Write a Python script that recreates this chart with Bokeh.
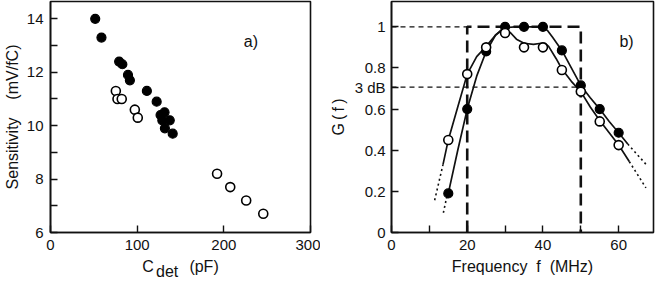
from bokeh.plotting import figure
from bokeh.layouts import row
from bokeh.models import FixedTicker, Label
from bokeh.embed import file_html
from bokeh.resources import INLINE

# ---------------- data: panel a ----------------
cdet_filled = [51.6, 58.8, 79.2, 82.9, 89.4, 91.6, 111.2, 122.5, 127.0, 131.6, 129.0, 137.6, 132.0, 141.0]
sens_filled = [14.0, 13.3, 12.4, 12.3, 11.9, 11.7, 11.3, 10.9, 10.4, 10.5, 10.2, 10.2, 9.9, 9.7]
cdet_open = [75.4, 77.3, 82.2, 97.3, 100.7, 192.2, 207.4, 225.8, 245.5]
sens_open = [11.3, 11.0, 11.0, 10.6, 10.3, 8.2, 7.7, 7.2, 6.7]
a_xticks = [0, 100, 200, 300]
a_yticks = [6, 8, 10, 12, 14]
a_yminor = [7, 9, 11, 13]

# ---------------- data: panel b ----------------
freq_pts = [15, 20, 25, 30, 35, 40, 45, 50, 55, 60]
g_filled = [0.19, 0.60, 0.88, 1.00, 1.00, 1.00, 0.885, 0.715, 0.60, 0.485]
g_open = [0.45, 0.77, 0.90, 0.97, 0.90, 0.90, 0.79, 0.685, 0.54, 0.425]

fit_filled_f = [14.5, 15, 17.5, 20, 22.5, 25, 27.5, 30, 32.5, 35, 37.5, 40, 41.3, 42.5, 45, 47.5, 50, 52.5, 55, 57.5, 60, 62.4]
fit_filled_g = [0.165, 0.19, 0.40, 0.60, 0.76, 0.88, 0.96, 0.995, 1.0, 1.0, 1.0, 1.0, 0.98, 0.95, 0.885, 0.80, 0.715, 0.655, 0.60, 0.54, 0.485, 0.43]
fit_open_f = [13.6, 15, 17.5, 20, 22.5, 25, 27.5, 29, 30, 31.5, 33, 35, 37.5, 39.5, 40.5, 41.5, 43.5, 45, 47.5, 50, 52.5, 55, 57.5, 60, 62.8]
fit_open_g = [0.33, 0.45, 0.61, 0.77, 0.855, 0.905, 0.96, 0.985, 0.99, 0.97, 0.94, 0.92, 0.915, 0.92, 0.92, 0.905, 0.845, 0.795, 0.735, 0.685, 0.61, 0.545, 0.485, 0.425, 0.345]
ext_filled_lo_f = [13.7, 14.5]
ext_filled_lo_g = [0.096, 0.165]
ext_open_lo_f = [11.4, 13.6]
ext_open_lo_g = [0.157, 0.33]
ext_filled_hi_f = [62.4, 67.4]
ext_filled_hi_g = [0.43, 0.328]
ext_open_hi_f = [62.8, 67.2]
ext_open_hi_g = [0.345, 0.217]

band_lo, band_hi = 20, 50
g_max, g_3db = 1.0, 0.707
b_xticks = [0, 20, 40, 60]
b_xminor = [10, 30, 50]
b_yticks = [0, 0.2, 0.4, 0.6, 0.707, 0.8, 1.0]
b_ylabels = {0: "0", 0.2: "0.2", 0.4: "0.4", 0.6: "0.6", 0.707: "3 dB", 0.8: "0.8", 1.0: "1"}

FONT = "Liberation Sans"
INK = "#111111"
NB = "\u00a0"


def style(p):
    p.xgrid.visible = False
    p.ygrid.visible = False
    p.outline_line_color = INK
    p.outline_line_width = 1.6
    p.background_fill_color = "white"
    p.border_fill_color = "white"
    for ax in (p.xaxis[0], p.yaxis[0]):
        ax.axis_line_color = INK
        ax.axis_line_width = 1.6
        ax.major_tick_in = 7
        ax.major_tick_out = 0
        ax.minor_tick_in = 7
        ax.minor_tick_out = 0
        ax.major_tick_line_color = INK
        ax.minor_tick_line_color = INK
        ax.major_tick_line_width = 1.4
        ax.minor_tick_line_width = 1.4
        ax.major_label_text_font = FONT
        ax.major_label_text_font_size = "15px"
        ax.major_label_text_color = INK
        ax.axis_label_text_font = FONT
        ax.axis_label_text_font_size = "16px"
        ax.axis_label_text_font_style = "normal"
        ax.axis_label_text_color = INK


# ---------------- panel a ----------------
pa = figure(width=320, height=285, output_backend="svg", toolbar_location=None,
            x_range=(0, 300), y_range=(6, 14.65),
            min_border_left=45, min_border_right=10, min_border_top=1, min_border_bottom=53)
style(pa)
pa.xaxis[0].ticker = FixedTicker(ticks=a_xticks)
pa.yaxis[0].ticker = FixedTicker(ticks=a_yticks, minor_ticks=a_yminor)
pa.xaxis[0].major_label_standoff = 7
pa.yaxis[0].major_label_standoff = 7
pa.yaxis[0].axis_label = "Sensitivity" + NB * 4 + "(mV/fC)"
pa.yaxis[0].axis_label_standoff = 3
# two-line title: "C ... (pF)" with the subscript "det" on a tightly spaced second line
pa.xaxis[0].axis_label = "C" + NB * 8 + "(pF)" + "\n" + NB * 3 + "det" + NB * 9
pa.xaxis[0].axis_label_text_line_height = 0.3
pa.xaxis[0].axis_label_standoff = 5

pa.scatter(cdet_filled, sens_filled, marker="circle", size=9, fill_color="black",
           line_color="black", line_width=1.2)
pa.scatter(cdet_open, sens_open, marker="circle", size=9, fill_color="white",
           line_color="black", line_width=1.6)

pa.add_layout(Label(x=223, y=13.15, text="a)", text_font=FONT,
                    text_font_size="16px", text_color=INK, text_baseline="alphabetic"))

# ---------------- panel b ----------------
pb = figure(width=335, height=285, output_backend="svg", toolbar_location=None,
            x_range=(0, 69.2), y_range=(0, 1.123),
            min_border_left=71, min_border_right=2, min_border_top=1, min_border_bottom=53)
style(pb)
pb.xaxis[0].ticker = FixedTicker(ticks=b_xticks, minor_ticks=b_xminor)
pb.yaxis[0].ticker = FixedTicker(ticks=b_yticks)
pb.yaxis[0].major_label_overrides = b_ylabels
pb.xaxis[0].major_label_standoff = 7
pb.yaxis[0].major_label_standoff = 6
pb.xaxis[0].axis_label = "Frequency" + NB * 2 + "f" + NB * 2 + "(MHz)"
pb.xaxis[0].axis_label_standoff = 5
pb.yaxis[0].axis_label = "G\u2009(\u2009f\u2009)"
pb.yaxis[0].axis_label_standoff = 5

# thin dashed reference lines
pb.line([0, band_lo], [g_max, g_max], line_color=INK, line_width=1.2, line_dash="5 4")
pb.line([0, band_hi], [g_3db, g_3db], line_color=INK, line_width=1.2, line_dash="5 4")
# thick dashed passband box
pb.line([band_lo, band_lo, band_hi, band_hi], [0, g_max, g_max, 0],
        line_color=INK, line_width=2.6, line_dash="12 6")

# fitted curves
pb.line(fit_filled_f, fit_filled_g, line_color=INK, line_width=1.7, line_join="round")
pb.line(fit_open_f, fit_open_g, line_color=INK, line_width=1.7, line_join="round")
for fx, gy in ((ext_filled_lo_f, ext_filled_lo_g), (ext_open_lo_f, ext_open_lo_g),
               (ext_filled_hi_f, ext_filled_hi_g), (ext_open_hi_f, ext_open_hi_g)):
    pb.line(fx, gy, line_color=INK, line_width=1.6, line_dash="2 3")

pb.scatter(freq_pts, g_filled, marker="circle", size=9, fill_color="black",
           line_color="black", line_width=1.2)
pb.scatter(freq_pts, g_open, marker="circle", size=9, fill_color="white",
           line_color="black", line_width=1.6)

pb.add_layout(Label(x=60.2, y=0.927, text="b)", text_font=FONT,
                    text_font_size="16px", text_color=INK, text_baseline="alphabetic"))

layout = row(pa, pb)
open("out.html", "w").write(file_html(layout, INLINE))
